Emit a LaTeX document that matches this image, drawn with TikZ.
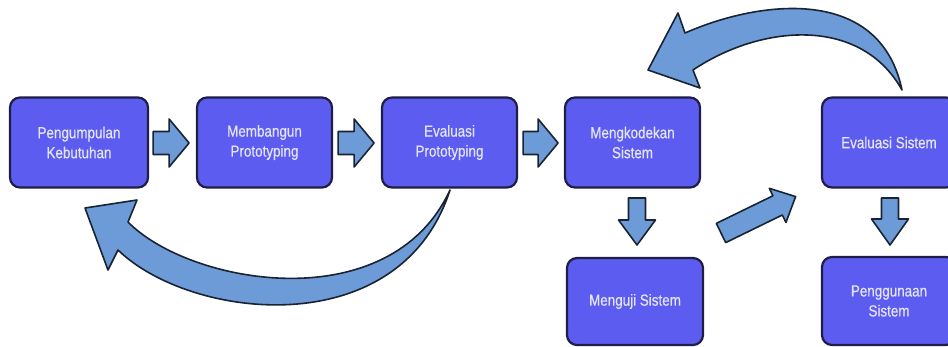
\documentclass[tikz,border=0pt]{standalone}
\usepackage{fontspec}
\newfontfamily\boxfont{Liberation Sans}[FakeStretch=0.84,FakeBold=0.5]
\usetikzlibrary{calc}
\definecolor{boxfill}{RGB}{92,92,240}
\definecolor{boxline}{RGB}{30,30,70}
\definecolor{arrfill}{RGB}{109,155,216}
\definecolor{arrline}{RGB}{25,35,50}
\definecolor{txt}{RGB}{228,228,252}
\tikzset{
  stepbox/.style={draw=boxline, line width=2.2pt, fill=boxfill, rounded corners=10pt,
    inner sep=0pt, align=center, text=txt,
    font=\boxfont\fontsize{16}{20}\selectfont},
  barrow/.style={draw=arrline, line width=1.6pt, fill=arrfill, line join=round}
}
\newcommand\blockarr[6]{%
  \draw[barrow, shift={#1}, rotate=#2] (0,#4) -- ({#3-#6},#4) -- ({#3-#6},#5) -- (#3,0)
    -- ({#3-#6},-#5) -- ({#3-#6},-#4) -- (0,-#4) -- cycle;}
\begin{document}
\begin{tikzpicture}[x=1pt,y=-1pt]
\useasboundingbox (0,0) rectangle (948,347);
\fill[white] (0,0) rectangle (948,347);
\clip (0,0) rectangle (948,347);
% boxes
\node[stepbox, minimum width=138pt, minimum height=90pt] (b1) at (79,142.5) {Pengumpulan\\Kebutuhan};
\node[stepbox, minimum width=135pt, minimum height=90pt] (b2) at (264.5,142.5) {Membangun\\Prototyping};
\node[stepbox, minimum width=135pt, minimum height=90pt] (b3) at (449.5,142.5) {Evaluasi\\Prototyping};
\node[stepbox, minimum width=135pt, minimum height=90pt] (b4) at (632.5,142.5) {Mengkodekan\\Sistem};
\node[stepbox, minimum width=134pt, minimum height=90pt] (b5) at (889,142.5) {Evaluasi Sistem};
\node[stepbox, minimum width=136pt, minimum height=87pt] (b6) at (635,301.5) {Menguji Sistem};
\node[stepbox, minimum width=134pt, minimum height=88pt] (b7) at (889,301) {Penggunaan\\Sistem};
% straight block arrows
\blockarr{($(b1.east)+(4,0.5)$)}{0}{36}{11.5}{24}{20}
\blockarr{($(b2.east)+(5,0.5)$)}{0}{36}{11.5}{24}{20}
\blockarr{($(b3.east)+(5,0.5)$)}{0}{35}{11.5}{24}{20}
\blockarr{(637,198)}{-90}{47}{8.5}{18.5}{25}
\blockarr{(890,198)}{-90}{47}{8.5}{18.5}{26}
\blockarr{(721,233)}{26}{83}{10.7}{19}{20}
% curved arrows
\draw[barrow] (685,33) -- (678,13) -- (648,70) -- (700,88) -- (693,70)
  .. controls (760,25) and (860,15) .. (902,90)
  .. controls (880,-15) and (760,0) .. (685,33) -- cycle;
\draw[barrow] (128,222) -- (137,200) -- (85,208) -- (108,270) -- (118,250)
  .. controls (190,320) and (400,345) .. (450,190)
  .. controls (390,320) and (190,285) .. (128,222) -- cycle;
\end{tikzpicture}
\end{document}
